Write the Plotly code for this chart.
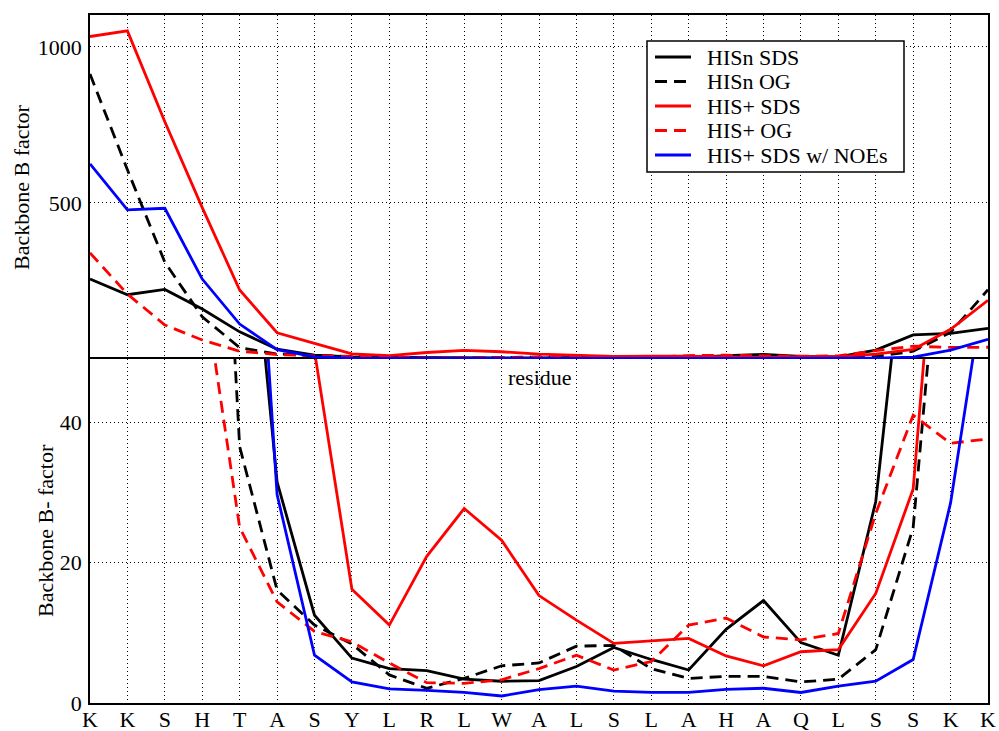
import plotly.graph_objects as go

# Peptide sequence along the x axis
residues = ["K", "K", "S", "H", "T", "A", "S", "Y", "L", "R", "L", "W", "A",
            "L", "S", "L", "A", "H", "A", "Q", "L", "S", "S", "K", "K"]

# Backbone B factors per residue
hisn_sds = [256, 206, 223, 160, 87, 31.5, 12.5, 6.4, 4.9, 4.6, 3.4, 3.1, 3.2,
            5.2, 7.9, 6.2, 4.7, 10.5, 14.6, 8.6, 6.8, 28.7, 77, 82, 98]
hisn_og = [913, 606, 310, 135, 36.5, 16.1, 11.1, 8.4, 4.0, 2.1, 3.5, 5.3, 5.7,
           8.1, 8.2, 4.9, 3.5, 3.8, 3.8, 3.0, 3.4, 7.6, 25, 85, 222]
hisp_sds = [1033, 1051, 760, 485, 221, 84, 50, 16.2, 11.1, 20.9, 27.7, 23.2, 15.3,
            11.8, 8.5, 8.9, 9.2, 6.7, 5.3, 7.3, 7.6, 15.6, 30.5, 95, 188]
hisp_og = [340, 208, 109, 61, 25, 14.4, 10.2, 8.7, 5.7, 2.9, 2.8, 3.3, 4.9,
           6.8, 4.7, 5.9, 11.1, 12.1, 9.4, 9.0, 9.9, 27, 41, 37, 37.6]
hisp_noe = [625, 478, 483, 256, 112, 29.7, 6.8, 3.0, 2.0, 1.8, 1.5, 1.0, 1.9,
            2.4, 1.7, 1.5, 1.5, 1.95, 2.1, 1.5, 2.4, 3.1, 6.2, 28.5, 63]

series_names = ["HISn SDS", "HISn OG", "HIS+ SDS", "HIS+ OG", "HIS+ SDS w/ NOEs"]
series_values = [hisn_sds, hisn_og, hisp_sds, hisp_og, hisp_noe]
series_colors = ["#000000", "#000000", "#ff0000", "#ff0000", "#0000ff"]
DASHED = "12px,7px"
series_dash = ["solid", DASHED, "solid", DASHED, "solid"]

FONT = "Liberation Serif, Times New Roman, serif"
FS = 22
LW = 2.8
W, H = 999, 731
ML, MR, MT, MB = 90, 11, 15, 28
PW, PH = W - ML - MR, H - MT - MB

def px_x(px):
    return (px - ML) / PW

def px_y(py):
    return (H - MB - py) / PH

xpos = list(range(len(residues)))

fig = go.Figure()
for name, vals, color, dash in zip(series_names, series_values, series_colors, series_dash):
    line = dict(color=color, width=LW, dash=dash)
    # full range panel (top)
    fig.add_trace(go.Scatter(x=xpos, y=vals, mode="lines", name=name, line=line,
                             xaxis="x2", yaxis="y2", showlegend=False))
    # zoomed panel (bottom)
    fig.add_trace(go.Scatter(x=xpos, y=vals, mode="lines", name=name, line=line,
                             xaxis="x", yaxis="y", showlegend=False))

axis_common = dict(showline=True, linecolor="#000000", linewidth=1.5,
                   showgrid=True, gridcolor="#000000", gridwidth=1, griddash="1px,3px",
                   zeroline=False, ticks="", automargin=False,
                   tickfont=dict(family=FONT, size=FS, color="#000000"))

# Legend box drawn as shapes and text
shapes = []
annotations = []
lx0, lx1, ly0, ly1 = 647, 904, 41, 172
shapes.append(dict(type="rect", xref="paper", yref="paper",
                   x0=px_x(lx0), x1=px_x(lx1), y0=px_y(ly1), y1=px_y(ly0),
                   line=dict(color="#000000", width=1.5), fillcolor="white",
                   layer="above"))
row_y = [57, 81.5, 106, 130.5, 155]
for name, color, dash, ry in zip(series_names, series_colors, series_dash, row_y):
    shapes.append(dict(type="line", xref="paper", yref="paper",
                       x0=px_x(655), x1=px_x(691), y0=px_y(ry), y1=px_y(ry),
                       line=dict(color=color, width=LW, dash=dash), layer="above"))
    annotations.append(dict(text=name, xref="paper", yref="paper",
                            x=px_x(705), y=px_y(ry), xanchor="left", yanchor="middle",
                            showarrow=False, font=dict(family=FONT, size=FS)))

annotations += [
    dict(text="residue", xref="paper", yref="paper", x=px_x(540), y=px_y(378),
         xanchor="center", yanchor="middle", showarrow=False,
         font=dict(family=FONT, size=FS)),
    dict(text="Backbone B factor", xref="paper", yref="paper", x=px_x(21), y=px_y(187),
         xanchor="center", yanchor="middle", textangle=-90, showarrow=False,
         font=dict(family=FONT, size=FS)),
    dict(text="Backbone B- factor", xref="paper", yref="paper", x=px_x(45), y=px_y(531),
         xanchor="center", yanchor="middle", textangle=-90, showarrow=False,
         font=dict(family=FONT, size=FS)),
]

fig.update_layout(
    width=W, height=H,
    margin=dict(l=ML, r=MR, t=MT, b=MB, autoexpand=False),
    paper_bgcolor="white", plot_bgcolor="white",
    font=dict(family=FONT, size=FS, color="#000000"),
    xaxis=dict(axis_common, mirror=True, domain=[0, 1], anchor="y", range=[0, 24],
               tickmode="array", tickvals=xpos, ticktext=residues,
               ticklabelstandoff=-4),
    yaxis=dict(axis_common, mirror=True, domain=[0, 0.5], anchor="x", range=[0, 49],
               tickmode="array", tickvals=[0, 20, 40], ticklabelstandoff=2),
    xaxis2=dict(axis_common, mirror=False, side="top", domain=[0, 1], anchor="y2",
                range=[0, 24], tickmode="array", tickvals=xpos, showticklabels=False),
    yaxis2=dict(axis_common, mirror=True, domain=[0.5, 1], anchor="x2", range=[0, 1102],
                tickmode="array", tickvals=[500, 1000], ticklabelstandoff=2),
    showlegend=False,
    shapes=shapes,
    annotations=annotations,
)

fig.write_html("out.html")
